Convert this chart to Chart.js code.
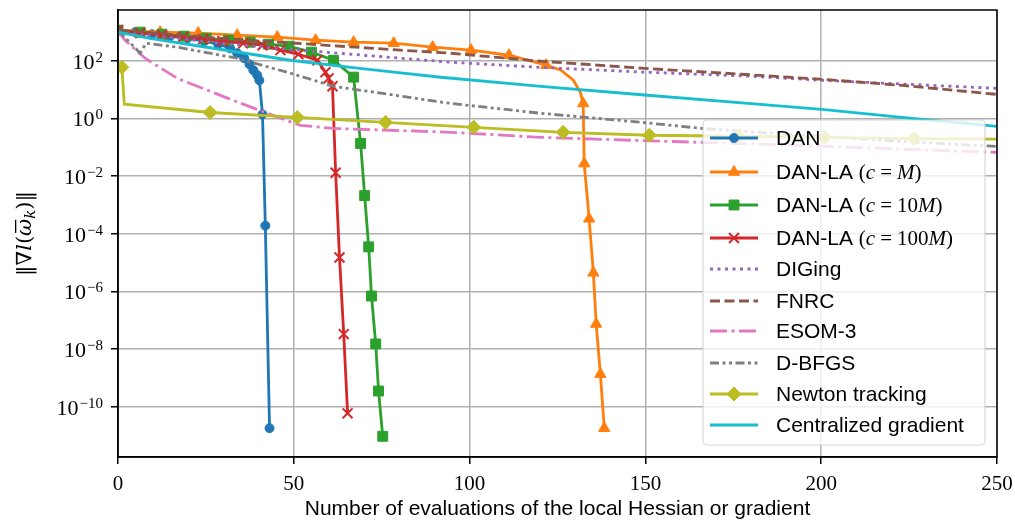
<!DOCTYPE html>
<html>
<head>
<meta charset="utf-8">
<script src="https://cdn.jsdelivr.net/npm/chart.js@4.4.1/dist/chart.umd.min.js"></script>
<style>
  html, body { margin: 0; padding: 0; background: #fff; }
  #wrap { width: 1015px; height: 522px; }
</style>
</head>
<body>
<div id="wrap"><canvas id="chart" width="1015" height="522"></canvas></div>
<script>
// Axis ticks
const xTicks = [0, 50, 100, 150, 200, 250];
const yTicks = [1e-10, 1e-8, 1e-6, 1e-4, 1e-2, 1e0, 1e2];
const yTickExps = ['\u221210', '\u22128', '\u22126', '\u22124', '\u22122', '0', '2'];

// DAN
const danX = [0, 4.9, 9.7, 14.8, 19.7, 24.5, 28.5, 31.9, 33.9, 35.9, 37.4, 38.5, 39.6, 40.2, 41.1, 41.9, 43.1];
const danY = [1150, 980, 830, 710, 600, 475, 375, 270, 182, 122, 75, 47, 31.5, 21, 1.38, 1.9e-4, 1.8e-11];

// DAN-LA (c = M)
const laMX = [0, 12.0, 22.8, 33.9, 45.3, 56.2, 67.0, 78.4, 89.5, 100.4, 111.2, 121.8, 126.0, 129.5, 131.5, 132.3, 132.6, 134.0, 135.2, 136.0, 137.2, 138.3];
const laMY = [1150, 980, 910, 770, 660, 515, 440, 405, 295, 232, 155, 70, 47, 21, 8.0, 3.3, 0.027, 3.3e-4, 4.4e-6, 7.4e-8, 1.35e-9, 1.8e-11];

// DAN-LA (c = 10M)
const la10X = [0, 6.3, 12.5, 18.8, 25.1, 31.4, 37.6, 42.8, 48.5, 55.0, 61.3, 67.0, 69.0, 70.15, 71.3, 72.1, 73.3, 74.1, 75.3];
const la10Y = [1150, 980, 830, 710, 600, 515, 440, 375, 318, 198, 104, 27, 0.135, 2.1e-3, 3.5e-5, 6.9e-7, 1.5e-8, 3.5e-10, 9.4e-12];

// DAN-LA (c = 100M)
const la100X = [0, 6.3, 12.5, 18.5, 24.2, 29.7, 35.6, 41.1, 46.2, 51.3, 56.7, 59.0, 59.9, 61.0, 61.9, 63.0, 64.2, 65.3];
const la100Y = [1150, 910, 770, 660, 560, 475, 405, 345, 232, 168, 104, 40, 24.6, 13.0, 0.013, 1.5e-5, 3.3e-8, 5.9e-11];

// DIGing
const digX = [0, 12, 29.1, 51.9, 80.4, 94.7, 120, 150, 180, 200, 225, 250];
const digY = [1060, 710, 405, 232, 122, 89, 59, 40, 29, 21, 15.2, 11.0];

// FNRC
const fnrcX = [0, 29.1, 80.4, 94.7, 120.3, 148.9, 177.4, 200.2, 223, 250];
const fnrcY = [1150, 600, 232, 182, 96, 55, 34, 22.7, 14.0, 6.8];

// ESOM-3
const esomX = [0, 2.0, 7.7, 16.8, 32.8, 42.5, 51.9, 61.3, 94.7, 120.3, 148.9, 194.5, 250];
const esomY = [1060, 515, 122, 24.6, 4.2, 1.5, 0.57, 0.45, 0.33, 0.22, 0.17, 0.115, 0.066];

// D-BFGS
const dbX = [0, 6.3, 8.0, 16.8, 33.9, 49.0, 61.3, 94.7, 120.3, 148.9, 166, 208.7, 250];
const dbY = [1150, 182, 405, 295, 122, 37, 13.0, 3.3, 1.5, 0.73, 0.45, 0.20, 0.106];

// Newton tracking
const ntX = [1.1, 1.8, 26.2, 51.0, 76.1, 101.2, 126.6, 151.1, 176.5, 201, 226.4, 250];
const ntY = [59, 3.1, 1.6, 1.08, 0.73, 0.49, 0.33, 0.26, 0.24, 0.22, 0.20, 0.19];

// Centralized gradient
const cgX = [0, 9.1, 23.4, 49.0, 66.2, 80.4, 91.8, 120.3, 148.9, 177.4, 200.2, 223, 250];
const cgY = [980, 600, 318, 104, 59, 38, 26.7, 13.0, 6.6, 3.46, 2.06, 1.08, 0.53];

const seriesNames = ['DAN', 'DAN-LA (c = M)', 'DAN-LA (c = 10M)', 'DAN-LA (c = 100M)', 'DIGing',
    'FNRC', 'ESOM-3', 'D-BFGS', 'Newton tracking', 'Centralized gradient'];
const seriesX = [danX, laMX, la10X, la100X, digX, fnrcX, esomX, dbX, ntX, cgX];
const seriesY = [danY, laMY, la10Y, la100Y, digY, fnrcY, esomY, dbY, ntY, cgY];

// styles (noMark = indices drawn without marker)
const styles = [
    { color: '#1f77b4', marker: 'circle', r: 4.5 },
    { color: '#ff7f0e', marker: 'triangle', r: 6.5, noMark: [12, 13, 14] },
    { color: '#2ca02c', marker: 'rect', r: 7 },
    { color: '#d62728', marker: 'crossRot', r: 7, bw: 2 },
    { color: '#9467bd', dash: [3, 4.5] },
    { color: '#8c564b', dash: [10, 4.5] },
    { color: '#e377c2', dash: [17, 4.5, 3, 4.5] },
    { color: '#7f7f7f', dash: [9, 3.5, 3, 3.5, 3, 3.5] },
    { color: '#bcbd22', marker: 'rectRot', r: 7, noMark: [1, 11] },
    { color: '#17becf' }
];
const LW = 2.8;

const datasets = seriesNames.map((name, i) => {
    const st = styles[i];
    return {
        label: name,
        data: seriesX[i].map((x, j) => ({ x: x, y: seriesY[i][j] })),
        borderColor: st.color,
        backgroundColor: st.color,
        borderWidth: LW,
        borderDash: st.dash || [],
        pointStyle: st.marker || 'circle',
        pointRadius: (ctx) => (!st.marker || (st.noMark || []).includes(ctx.dataIndex)) ? 0 : st.r,
        pointBackgroundColor: st.color,
        pointBorderColor: st.color,
        pointBorderWidth: st.bw || 1,
        tension: 0,
        order: seriesNames.length - i
    };
});

function drawLabel(ctx, text, x, y) {
    const m = text.match(/^(.*?)\s*\((.*)\)$/);
    ctx.font = '21px "Liberation Sans"';
    if (!m) { ctx.fillText(text, x, y); return; }
    const pre = m[1] + ' ';
    ctx.fillText(pre, x, y);
    x += ctx.measureText(pre).width;
    const math = '(' + m[2] + ')';
    for (const ch of math) {
        if (ch === ' ') { x += 5; continue; }
        ctx.font = /[A-Za-z]/.test(ch) ? 'italic 21px "Liberation Serif"' : '21px "Liberation Serif"';
        ctx.fillText(ch, x, y);
        x += ctx.measureText(ch).width;
    }
}

// y tick labels as 10^n, y axis title
const axisTextPlugin = {
    id: 'axisText',
    afterDraw(chart) {
        const { ctx, chartArea } = chart;
        const ys = chart.scales.y;
        ctx.save();
        ctx.fillStyle = '#000';
        ctx.textBaseline = 'alphabetic';
        ctx.textAlign = 'left';
        yTicks.forEach((v, i) => {
            const py = ys.getPixelForValue(v);
            ctx.font = '15px "Liberation Serif"';
            const ew = ctx.measureText(yTickExps[i]).width;
            ctx.font = '22px "Liberation Serif"';
            const bw = ctx.measureText('10').width;
            const right = chartArea.left - 7 - 8;
            const x = right - ew - bw - 1;
            ctx.fillText('10', x, py + 8);
            ctx.font = '15px "Liberation Serif"';
            ctx.fillText(yTickExps[i], x + bw + 1, py + 1);
        });

        // rotated title  ||∇l(ω̄_k)||
        ctx.translate(25, (chartArea.top + chartArea.bottom) / 2);
        ctx.rotate(-Math.PI / 2);
        const parts = [
            { t: '\u2016\u2207', f: '21px "DejaVu Serif"' },
            { t: 'l', f: 'italic 21px "DejaVu Serif"' },
            { t: '(', f: '21px "DejaVu Serif"' },
            { t: '\u03c9', f: 'italic 21px "DejaVu Serif"', bar: true },
            { t: 'k', f: 'italic 15px "DejaVu Serif"', dy: 5 },
            { t: ')\u2016', f: '21px "DejaVu Serif"' }
        ];
        let total = 0;
        parts.forEach(p => { ctx.font = p.f; p.w = ctx.measureText(p.t).width; total += p.w; });
        let x = -total / 2;
        ctx.textBaseline = 'middle';
        parts.forEach(p => {
            ctx.font = p.f;
            ctx.fillText(p.t, x, 1 + (p.dy || 0));
            if (p.bar) ctx.fillRect(x + 3, -10, p.w - 4, 1.3);
            x += p.w;
        });
        ctx.restore();
    }
};

const framePlugin = {
    id: 'frameAndLegend',
    afterDatasetsDraw(chart) {
        const { ctx, chartArea } = chart;
        ctx.save();
        // full frame
        ctx.strokeStyle = '#000';
        ctx.lineWidth = 1.5;
        ctx.strokeRect(chartArea.left, chartArea.top, chartArea.right - chartArea.left, chartArea.bottom - chartArea.top);

        // legend box
        const w = 282, h = 325;
        const x0 = chartArea.right - 12 - w, y0 = chartArea.bottom - 12 - h;
        ctx.beginPath();
        ctx.roundRect(x0, y0, w, h, 4);
        ctx.fillStyle = 'rgba(255,255,255,0.8)';
        ctx.fill();
        ctx.strokeStyle = 'rgba(204,204,204,0.8)';
        ctx.lineWidth = 1.2;
        ctx.stroke();

        const rows = [18, 52, 85, 118, 149, 181, 211, 243, 274, 305];
        chart.data.datasets.forEach((ds, i) => {
            const st = styles[i];
            const yy = y0 + rows[i];
            ctx.strokeStyle = st.color;
            ctx.fillStyle = st.color;
            ctx.lineWidth = LW;
            ctx.setLineDash(st.dash || []);
            ctx.beginPath();
            ctx.moveTo(x0 + 7, yy);
            ctx.lineTo(x0 + 55, yy);
            ctx.stroke();
            ctx.setLineDash([]);
            if (st.marker) {
                ctx.lineWidth = st.bw || 1;
                Chart.helpers.drawPoint(ctx, { pointStyle: st.marker, radius: st.r, rotation: 0, borderWidth: st.bw || 1 }, x0 + 31, yy);
            }
            ctx.fillStyle = '#000';
            ctx.textBaseline = 'middle';
            ctx.textAlign = 'left';
            drawLabel(ctx, ds.label, x0 + 73, yy + 1);
        });
        ctx.restore();
    }
};

const gridStyle = { color: '#b0b0b0', lineWidth: 1.5, tickColor: '#000', tickLength: 7, tickWidth: 1.5 };

new Chart(document.getElementById('chart'), {
    type: 'line',
    data: { datasets: datasets },
    options: {
        responsive: false,
        animation: false,
        events: [],
        devicePixelRatio: 1,
        layout: { padding: { top: 10, right: 18, left: 0, bottom: 0 } },
        scales: {
            x: {
                type: 'linear',
                min: 0,
                max: 250,
                afterBuildTicks: (s) => { s.ticks = xTicks.map(v => ({ value: v })); },
                ticks: { color: '#000', font: { family: 'Liberation Serif', size: 21 }, padding: 8, maxRotation: 0 },
                grid: gridStyle,
                border: { color: '#000', width: 1.5 },
                title: {
                    display: true,
                    text: 'Number of evaluations of the local Hessian or gradient',
                    color: '#000',
                    font: { family: 'Liberation Sans', size: 21 },
                    padding: { top: 0, bottom: 0 }
                },
                afterFit: (s) => { s.height = 65; s.paddingLeft = 0; s.paddingRight = 0; }
            },
            y: {
                type: 'logarithmic',
                min: 1.8e-12,
                max: 5750,
                afterBuildTicks: (s) => { s.ticks = yTicks.map(v => ({ value: v })); },
                ticks: { callback: () => '' },
                grid: gridStyle,
                border: { color: '#000', width: 1.5 },
                afterFit: (s) => { s.width = 118; s.paddingTop = 0; s.paddingBottom = 0; }
            }
        },
        plugins: {
            legend: { display: false },
            tooltip: { enabled: false }
        }
    },
    plugins: [framePlugin, axisTextPlugin]
});
</script>
</body>
</html>
